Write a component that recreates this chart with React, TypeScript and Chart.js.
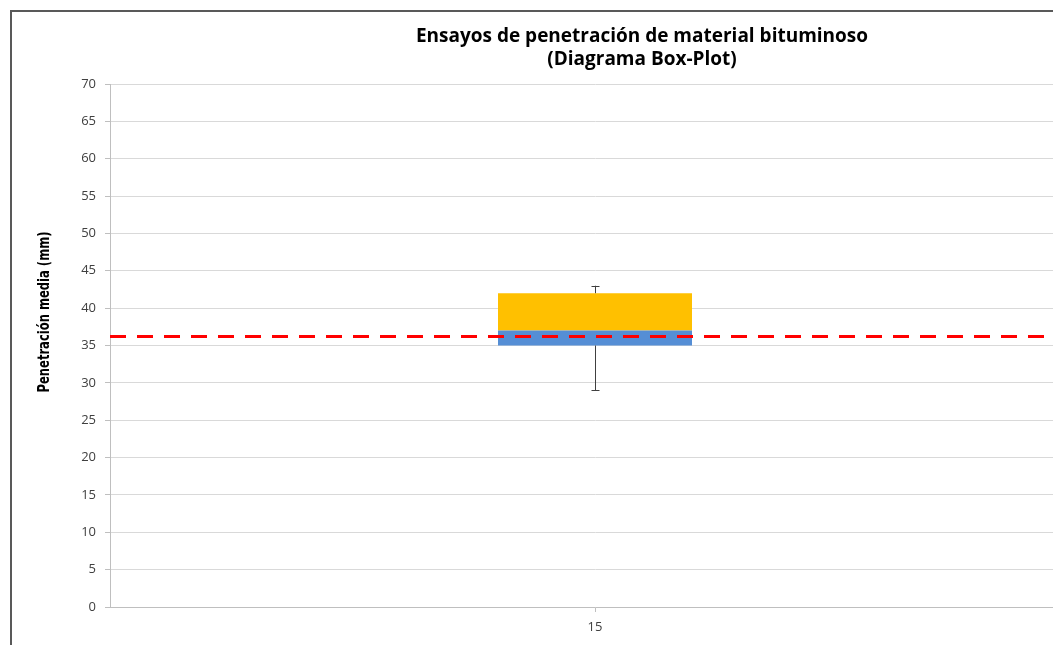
import React, { useEffect, useRef } from "react";
import { Chart, registerables } from "chart.js";

Chart.register(...registerables);

const categories = ["15"];
const q1 = [35];
const median = [37];
const q3 = [42];
const whiskerLow = [29];
const whiskerHigh = [43];
const referenceValue = 36.2;
const yTicks = [0, 5, 10, 15, 20, 25, 30, 35, 40, 45, 50, 55, 60, 65, 70];
const titleLines = ["Ensayos de penetración de material bituminoso", "(Diagrama Box-Plot)"];
const yAxisTitle = "Penetración media (mm)";

const whiskerPlugin = {
  id: "whiskers",
  afterDatasetsDraw(chart: any) {
    const { ctx, scales } = chart;
    const xs = scales.x;
    const ys = scales.y;
    ctx.save();
    ctx.strokeStyle = "#404040";
    ctx.lineWidth = 1;
    categories.forEach((_, i) => {
      const x = Math.round(xs.getPixelForValue(i)) + 0.5;
      const segs = [
        [whiskerLow[i], q1[i]],
        [q3[i], whiskerHigh[i]],
      ];
      segs.forEach(([a, b]) => {
        ctx.beginPath();
        ctx.moveTo(x, ys.getPixelForValue(a));
        ctx.lineTo(x, ys.getPixelForValue(b));
        ctx.stroke();
      });
      [whiskerLow[i], whiskerHigh[i]].forEach((v) => {
        const y = Math.round(ys.getPixelForValue(v)) + 0.5;
        ctx.beginPath();
        ctx.moveTo(x - 4, y);
        ctx.lineTo(x + 4, y);
        ctx.stroke();
      });
    });
    ctx.restore();
  },
};

const refLinePlugin = {
  id: "refLine",
  afterDatasetsDraw(chart: any) {
    const { ctx, chartArea, scales } = chart;
    const y = scales.y.getPixelForValue(referenceValue);
    ctx.save();
    ctx.strokeStyle = "#FF0000";
    ctx.lineWidth = 3;
    ctx.setLineDash([16, 11]);
    ctx.beginPath();
    ctx.moveTo(chartArea.left, y);
    ctx.lineTo(chartArea.right, y);
    ctx.stroke();
    ctx.restore();
  },
};

const textPlugin = {
  id: "texts",
  afterDraw(chart: any) {
    const { ctx, chartArea } = chart;
    ctx.save();
    ctx.fillStyle = "#000000";
    ctx.textAlign = "center";
    ctx.textBaseline = "middle";
    ctx.font = "bold 19px 'Open Sans'";
    ctx.fillText(titleLines[0], 642, 37);
    ctx.fillText(titleLines[1], 642, 60);
    ctx.translate(chartArea.left - 65, 312);
    ctx.rotate(-Math.PI / 2);
    ctx.font = "bold 15px 'Liberation Sans Narrow', 'DejaVu Sans Condensed'";
    const w = ctx.measureText(yAxisTitle).width;
    ctx.scale(161 / w, 1);
    ctx.fillText(yAxisTitle, 0, 0);
    ctx.restore();
  },
};

export default function App() {
  const ref = useRef<HTMLCanvasElement>(null);
  useEffect(() => {
    if (!ref.current) return;
    const chart = new Chart(ref.current, {
      type: "bar",
      data: {
        labels: categories,
        datasets: [
          {
            label: "Q1-Mediana",
            data: categories.map((_, i) => [q1[i], median[i]]) as any,
            backgroundColor: "#558ED5",
            grouped: false,
            barPercentage: 0.2,
            categoryPercentage: 1,
          } as any,
          {
            label: "Mediana-Q3",
            data: categories.map((_, i) => [median[i], q3[i]]) as any,
            backgroundColor: "#FFC000",
            grouped: false,
            barPercentage: 0.2,
            categoryPercentage: 1,
          } as any,
        ],
      },
      options: {
        animation: false,
        responsive: false,
        maintainAspectRatio: false,
        layout: { padding: { left: 0, top: 84, right: 204, bottom: 0 } },
        plugins: {
          legend: { display: false },
          title: { display: false },
          tooltip: { enabled: false },
        },
        scales: {
          x: {
            afterFit(scale: any) {
              scale.height = 38;
            },
            grid: {
              offset: false,
              drawOnChartArea: false,
              tickLength: 5,
              color: "#BFBFBF",
            },
            border: { color: "#BFBFBF" },
            ticks: {
              color: "#404040",
              font: { family: "Open Sans", size: 13 },
              padding: 7,
            },
          },
          y: {
            min: 0,
            max: 70,
            afterFit(scale: any) {
              scale.width = 110;
            },
            afterBuildTicks(scale: any) {
              scale.ticks = yTicks.map((v) => ({ value: v }));
            },
            grid: {
              color: "#D9D9D9",
              tickLength: 5,
              tickColor: "#BFBFBF",
            } as any,
            border: { color: "#BFBFBF" },
            ticks: {
              color: "#404040",
              font: { family: "Open Sans", size: 13 },
              padding: 9,
            },
          },
        },
      },
      plugins: [whiskerPlugin, refLinePlugin, textPlugin],
    });
    return () => chart.destroy();
  }, []);

  return (
    <div
      style={{
        position: "fixed",
        left: 0,
        top: 0,
        width: 1053,
        height: 645,
        overflow: "hidden",
        background: "#ffffff",
      }}
    >
      <canvas
        ref={ref}
        width={1284}
        height={645}
        style={{ position: "absolute", left: 0, top: 0, width: 1284, height: 645 }}
      />
      <div
        style={{
          position: "absolute",
          left: 10,
          top: 10,
          width: 1400,
          height: 800,
          border: "2px solid #595959",
          pointerEvents: "none",
        }}
      />
    </div>
  );
}
